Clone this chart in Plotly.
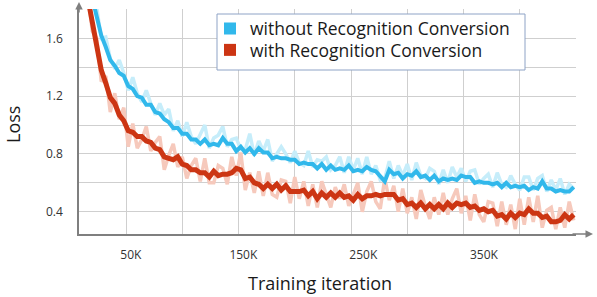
import plotly.graph_objects as go

# Training iterations (in thousands), one sample every 4K
iterations_k = list(range(16, 452, 4))

# Smoothed loss - without Recognition Conversion
loss_without = [
    2.10, 1.88, 1.75, 1.62, 1.54, 1.45, 1.41, 1.36, 1.34, 1.27,
    1.25, 1.20, 1.19, 1.14, 1.14, 1.09, 1.08, 1.04, 1.02, 0.98,
    0.98, 0.94, 0.94, 0.90, 0.90, 0.87, 0.90, 0.86, 0.87, 0.86,
    0.91, 0.87, 0.87, 0.82, 0.85, 0.81, 0.84, 0.80, 0.84, 0.81,
    0.81, 0.77, 0.78, 0.77, 0.77, 0.76, 0.76, 0.73, 0.74, 0.73,
    0.73, 0.70, 0.73, 0.69, 0.72, 0.69, 0.70, 0.69, 0.72, 0.68,
    0.69, 0.68, 0.71, 0.69, 0.68, 0.64, 0.61, 0.69, 0.66, 0.67,
    0.63, 0.66, 0.65, 0.68, 0.64, 0.65, 0.62, 0.65, 0.61, 0.63,
    0.62, 0.63, 0.62, 0.65, 0.64, 0.64, 0.60, 0.61, 0.60, 0.60,
    0.59, 0.60, 0.57, 0.60, 0.57, 0.58, 0.57, 0.58, 0.55, 0.57,
    0.56, 0.61, 0.56, 0.56, 0.54, 0.55, 0.54, 0.54, 0.57,
]

# Smoothed loss - with Recognition Conversion
loss_with = [
    1.88, 1.70, 1.54, 1.38, 1.29, 1.19, 1.15, 1.07, 1.03, 0.96,
    0.95, 0.92, 0.92, 0.89, 0.88, 0.84, 0.83, 0.78, 0.77, 0.76,
    0.78, 0.73, 0.72, 0.69, 0.69, 0.67, 0.67, 0.64, 0.68, 0.65,
    0.66, 0.66, 0.67, 0.70, 0.69, 0.63, 0.64, 0.60, 0.59, 0.56,
    0.59, 0.56, 0.59, 0.55, 0.58, 0.54, 0.54, 0.54, 0.55, 0.51,
    0.54, 0.49, 0.53, 0.50, 0.53, 0.50, 0.53, 0.50, 0.51, 0.48,
    0.52, 0.49, 0.51, 0.51, 0.52, 0.51, 0.52, 0.52, 0.52, 0.48,
    0.49, 0.45, 0.46, 0.43, 0.46, 0.42, 0.45, 0.42, 0.45, 0.42,
    0.46, 0.43, 0.46, 0.45, 0.46, 0.43, 0.44, 0.41, 0.42, 0.40,
    0.41, 0.37, 0.38, 0.35, 0.39, 0.36, 0.39, 0.38, 0.42, 0.39,
    0.39, 0.36, 0.37, 0.33, 0.33, 0.34, 0.38, 0.35, 0.38,
]

# Raw (unsmoothed) loss - without Recognition Conversion
raw_without = [
    2.12, 1.85, 1.81, 1.60, 1.61, 1.46, 1.39, 1.45, 1.36, 1.24,
    1.33, 1.22, 1.16, 1.24, 1.15, 1.07, 1.15, 1.07, 1.11, 0.96,
    1.03, 0.92, 1.02, 0.92, 0.87, 0.93, 1.00, 0.84, 0.91, 0.93,
    0.99, 0.85, 0.90, 0.91, 0.83, 0.83, 0.94, 0.79, 0.89, 0.82,
    0.90, 0.75, 0.80, 0.85, 0.80, 0.74, 0.82, 0.74, 0.72, 0.82,
    0.71, 0.76, 0.75, 0.78, 0.69, 0.72, 0.78, 0.67, 0.78, 0.69,
    0.77, 0.66, 0.78, 0.66, 0.72, 0.62, 0.63, 0.75, 0.63, 0.72,
    0.65, 0.73, 0.62, 0.74, 0.65, 0.63, 0.70, 0.68, 0.59, 0.69,
    0.60, 0.71, 0.64, 0.70, 0.61, 0.68, 0.69, 0.59, 0.63, 0.66,
    0.57, 0.67, 0.59, 0.57, 0.65, 0.59, 0.55, 0.64, 0.64, 0.55,
    0.63, 0.65, 0.54, 0.62, 0.55, 0.63, 0.52, 0.59, 0.56,
]

# Raw (unsmoothed) loss - with Recognition Conversion
raw_with = [
    1.91, 1.65, 1.60, 1.30, 1.34, 1.09, 1.22, 1.04, 1.12, 0.85,
    1.01, 0.84, 0.90, 0.99, 0.82, 0.88, 0.92, 0.69, 0.79, 0.87,
    0.71, 0.78, 0.63, 0.72, 0.77, 0.61, 0.77, 0.60, 0.60, 0.72,
    0.70, 0.59, 0.78, 0.65, 0.81, 0.55, 0.67, 0.53, 0.68, 0.51,
    0.67, 0.52, 0.50, 0.62, 0.61, 0.46, 0.64, 0.49, 0.61, 0.44,
    0.59, 0.43, 0.61, 0.52, 0.43, 0.57, 0.49, 0.59, 0.44, 0.52,
    0.60, 0.40, 0.54, 0.61, 0.47, 0.42, 0.63, 0.48, 0.58, 0.40,
    0.56, 0.39, 0.50, 0.35, 0.55, 0.44, 0.35, 0.50, 0.38, 0.53,
    0.38, 0.49, 0.56, 0.39, 0.51, 0.34, 0.52, 0.38, 0.33, 0.47,
    0.46, 0.30, 0.47, 0.31, 0.45, 0.28, 0.49, 0.31, 0.50, 0.33,
    0.51, 0.29, 0.41, 0.43, 0.28, 0.43, 0.29, 0.47, 0.34,
]

x_tick_vals = [54.3, 154.3, 260.9, 368.2]
x_tick_text = ["50K", "150K", "250K", "350K"]
x_grid_vals = [50, 100, 150, 200, 250, 300, 350, 400, 450]
y_tick_vals = [0.4, 0.6, 0.8, 1.0, 1.2, 1.4, 1.6, 1.8]
y_tick_text = ["0.4", "", "0.8", "", "1.2", "", "1.6", ""]

series_names = ["without Recognition Conversion", "with Recognition Conversion"]

BLUE = "#31b8eb"
RED = "#cc3513"
LIGHT_BLUE = "#c6edfa"
LIGHT_RED = "#f6c9bc"
FONT = "Open Sans"

fig = go.Figure()

fig.add_trace(go.Scatter(x=iterations_k, y=raw_without, mode="lines",
                         line=dict(color=LIGHT_BLUE, width=3.5), showlegend=False))
fig.add_trace(go.Scatter(x=iterations_k, y=raw_with, mode="lines",
                         line=dict(color=LIGHT_RED, width=3.5), showlegend=False))
fig.add_trace(go.Scatter(x=iterations_k, y=loss_without, mode="lines",
                         line=dict(color=BLUE, width=4), showlegend=False))
fig.add_trace(go.Scatter(x=iterations_k, y=loss_with, mode="lines",
                         line=dict(color=RED, width=5), showlegend=False))

# legend entries with square swatches (one legend per row for exact spacing)
fig.add_trace(go.Scatter(x=[None], y=[None], mode="markers", name=series_names[0],
                         marker=dict(symbol="square", size=13, color=BLUE), legend="legend"))
fig.add_trace(go.Scatter(x=[None], y=[None], mode="markers", name=series_names[1],
                         marker=dict(symbol="square", size=13, color=RED), legend="legend2"))

L, R, T, B = 79, 21, 9, 63
W, H = 597, 297
pw, ph = W - L - R, H - T - B

def px_x(p):
    return (p - L) / pw

def px_y(p):
    return (H - B - p) / ph

legend_common = dict(
    xanchor="left", yanchor="middle",
    bgcolor="rgba(0,0,0,0)", borderwidth=0,
    font=dict(family=FONT, size=17.5, color="#1a1a1a"),
    itemsizing="constant",
)

fig.update_layout(
    width=W, height=H,
    margin=dict(l=L, r=R, t=T, b=B, pad=0),
    paper_bgcolor="white", plot_bgcolor="white",
    font=dict(family=FONT, color="#333333"),
    xaxis=dict(
        range=[8.2, 450], showgrid=False, zeroline=False,
        tickvals=x_tick_vals, ticktext=x_tick_text, ticks="",
        tickfont=dict(size=12, color="#333333"), ticklabelstandoff=9,
        showline=True, linecolor="#7f7f7f", linewidth=1.5,
        minor=dict(tickvals=x_grid_vals, showgrid=True, gridcolor="#cfcfcf", gridwidth=1, ticks=""),
    ),
    yaxis=dict(
        range=[0.246, 1.803], showgrid=True, gridcolor="#cfcfcf", gridwidth=1,
        zeroline=False, tickvals=y_tick_vals, ticktext=y_tick_text, ticks="",
        tickfont=dict(size=12, color="#333333"), ticklabelstandoff=12,
        showline=True, linecolor="#7f7f7f", linewidth=1.5,
    ),
    legend=dict(x=px_x(210), y=px_y(28.5), **legend_common),
    legend2=dict(x=px_x(210), y=px_y(50), **legend_common),
    shapes=[dict(type="rect", xref="paper", yref="paper",
                 x0=px_x(217), x1=px_x(525), y0=px_y(70), y1=px_y(14),
                 line=dict(color="#8ea3c6", width=1), fillcolor="white", layer="above")],
    annotations=[
        dict(text="Loss", xref="paper", yref="paper", x=px_x(13), y=px_y(125),
             textangle=-90, showarrow=False, font=dict(size=18, color="#1a1a1a"),
             xanchor="center", yanchor="middle"),
        dict(text="Training iteration", xref="paper", yref="paper", x=px_x(320), y=px_y(283),
             showarrow=False, font=dict(size=18, color="#1a1a1a"),
             xanchor="center", yanchor="middle"),
        dict(text="", xref="paper", yref="paper", x=px_x(593), y=px_y(234),
             ax=-22, ay=0, showarrow=True, arrowhead=2, arrowsize=1, arrowwidth=1.5,
             arrowcolor="#7f7f7f"),
        dict(text="", xref="paper", yref="paper", x=px_x(79), y=px_y(2),
             ax=0, ay=12, showarrow=True, arrowhead=2, arrowsize=1, arrowwidth=1.5,
             arrowcolor="#7f7f7f"),
    ],
)

fig.write_html("out.html", config={"displayModeBar": False},
               post_script="document.body.style.margin='0px';")
